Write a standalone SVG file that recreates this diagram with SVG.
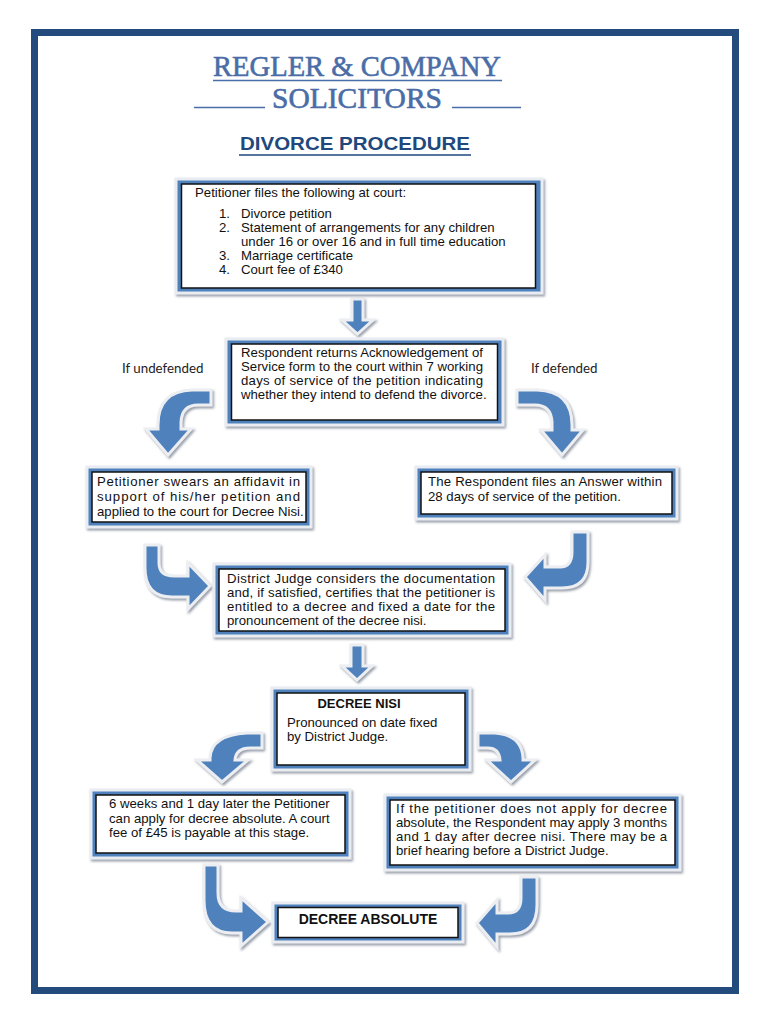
<svg xmlns="http://www.w3.org/2000/svg" width="770" height="1024" viewBox="0 0 770 1024">
<defs>
<filter id="sh" x="-10%" y="-10%" width="130%" height="130%">
<feDropShadow dx="1.5" dy="2" stdDeviation="0.8" flood-color="#8f96a3" flood-opacity="0.9"/>
</filter>
<style>
.frame{fill:#4f81bd;stroke:#e9ecf1;stroke-width:3;filter:url(#sh)}
.inner{fill:#ffffff;stroke:#111111;stroke-width:1.5}
.arrow{fill:#4f81bd;stroke:#eceef2;stroke-width:3;stroke-linejoin:miter;filter:url(#sh)}
.t{font-family:"Liberation Sans",Arial,sans-serif;font-size:13.2px;fill:#111111}
.b{font-family:"Liberation Sans",Arial,sans-serif;font-size:13px;font-weight:bold;fill:#111111}
.lbl{font-family:Lato,"Open Sans",sans-serif;font-size:13.3px;fill:#222222}
.title{font-family:"Liberation Serif","Times New Roman",serif;font-size:29px;fill:#4a6da7;stroke:#4a6da7;stroke-width:0.6}
</style>
</defs>
<rect x="34.5" y="32.5" width="701" height="958" fill="none" stroke="#234b7d" stroke-width="7"/>
<g id="header">
<text class="title" x="213" y="76" textLength="288" lengthAdjust="spacingAndGlyphs">REGLER &amp; COMPANY</text>
<line x1="213" y1="80.5" x2="502" y2="80.5" stroke="#4a6da7" stroke-width="1.5"/>
<text class="title" x="272" y="108" textLength="170" lengthAdjust="spacingAndGlyphs">SOLICITORS</text>
<line x1="194" y1="107.5" x2="265" y2="107.5" stroke="#4a6da7" stroke-width="1.5"/>
<line x1="452" y1="107.5" x2="521" y2="107.5" stroke="#4a6da7" stroke-width="1.5"/>
<text x="240" y="150" textLength="230" lengthAdjust="spacingAndGlyphs" style="font-family:'Liberation Sans',Arial,sans-serif;font-size:19px;font-weight:bold;fill:#1f497d">DIVORCE PROCEDURE</text>
<line x1="239" y1="155" x2="471" y2="155" stroke="#1f497d" stroke-width="1.5"/>
</g>
<g id="connectors">
<path class="arrow" d="M352,299 L363,299 L363,320 L373,320 L357.5,334 L342,320 L352,320 Z"/>
<path class="arrow" d="M211,390 L192,390 Q158,391 158,425 L158,429 L146,429 L168,455 L191,429 L181,429 L181,422 Q182,405 198,405 L211,405 Z"/>
<path class="arrow" d="M517,390 L537,390 Q572,391 572,425 L572,430 L583,430 L562,455 L541,430 L552,430 L552,422 Q551,405 535,405 L517,405 Z"/>
<path class="arrow" d="M145,545 L159,545 L159,563 Q159,576 174,576 L188,576 L188,563 L210,586 L188,609 L188,597 L172,597 Q145,597 145,568 Z"/>
<path class="arrow" d="M572,532 L588,532 L588,562 Q588,588 562,588 L545,588 L545,600 L525,577 L545,555 L545,567 L560,567 Q572,567 572,552 Z"/>
<path class="arrow" d="M351,645 L363,645 L363,666 L372,666 L357,680 L342,666 L351,666 Z"/>
<path class="arrow" d="M262,733 L247,733 Q211,735 210,758 L210,760 L197,760 L222,782 L248,760 L235,760 Q236,748 250,748 L262,748 Z"/>
<path class="arrow" d="M478,733 L495,733 Q522,735 523,758 L523,760 L535,760 L511,782 L487,760 L500,760 Q499,748 488,748 L478,748 Z"/>
<path class="arrow" d="M204,865 L218,865 L218,893 Q218,911 236,911 L241,911 L241,898 L268,922 L241,946 L241,933 L232,933 Q204,933 204,900 Z"/>
<path class="arrow" d="M521,877 L537,877 L537,905 Q537,934 510,934 L497,934 L497,947 L477,923 L497,900 L497,913 L508,913 Q521,913 521,898 Z"/>
</g>
<g id="n1">
<rect class="frame" x="176" y="179" width="366" height="114"/>
<rect class="inner" x="181.5" y="184" width="354" height="104"/>
<text class="t" x="195" y="197">Petitioner files the following at court:</text>
<text class="t" x="219" y="218">1.</text><text class="t" x="241" y="218">Divorce petition</text>
<text class="t" x="219" y="232">2.</text><text class="t" x="241" y="232">Statement of arrangements for any children</text>
<text class="t" x="241" y="246">under 16 or over 16 and in full time education</text>
<text class="t" x="219" y="260">3.</text><text class="t" x="241" y="260">Marriage certificate</text>
<text class="t" x="219" y="274">4.</text><text class="t" x="241" y="274">Court fee of £340</text>
</g>
<g id="n2">
<rect class="frame" x="226" y="339" width="277" height="86"/>
<rect class="inner" x="231.5" y="344" width="266" height="76"/>
<text class="t" x="241" y="357" textLength="242">Respondent returns Acknowledgement of</text>
<text class="t" x="241" y="371" textLength="242">Service form to the court within 7 working</text>
<text class="t" x="241" y="385" textLength="242">days of service of the petition indicating</text>
<text class="t" x="241" y="399">whether they intend to defend the divorce.</text>
</g>
<g id="lbl-undefended"><text class="lbl" x="122" y="373">If undefended</text></g>
<g id="lbl-defended"><text class="lbl" x="531" y="373">If defended</text></g>
<g id="n3">
<rect class="frame" x="87" y="467" width="224" height="60"/>
<rect class="inner" x="92" y="472" width="214" height="50"/>
<text class="t" x="97" y="486" textLength="203">Petitioner swears an affidavit in</text>
<text class="t" x="97" y="501" textLength="203">support of his/her petition and</text>
<text class="t" x="97" y="516">applied to the court for Decree Nisi.</text>
</g>
<g id="n4">
<rect class="frame" x="416" y="467" width="261" height="52"/>
<rect class="inner" x="421" y="472" width="251" height="42"/>
<text class="t" x="428" y="486" textLength="234">The Respondent files an Answer within</text>
<text class="t" x="428" y="501">28 days of service of the petition.</text>
</g>
<g id="n5">
<rect class="frame" x="214" y="564" width="296" height="72"/>
<rect class="inner" x="219" y="569" width="286" height="62"/>
<text class="t" x="227" y="583" textLength="268">District Judge considers the documentation</text>
<text class="t" x="227" y="597" textLength="268">and, if satisfied, certifies that the petitioner is</text>
<text class="t" x="227" y="611" textLength="268">entitled to a decree and fixed a date for the</text>
<text class="t" x="227" y="625">pronouncement of the decree nisi.</text>
</g>
<g id="n6">
<rect class="frame" x="272" y="688" width="198" height="82"/>
<rect class="inner" x="277" y="693" width="188" height="72"/>
<text class="b" x="359" y="708" text-anchor="middle">DECREE NISI</text>
<text class="t" x="287" y="727">Pronounced on date fixed</text>
<text class="t" x="287" y="741">by District Judge.</text>
</g>
<g id="n7">
<rect class="frame" x="91" y="790" width="259" height="68"/>
<rect class="inner" x="96" y="795" width="249" height="58"/>
<text class="t" x="109" y="808">6 weeks and 1 day later the Petitioner</text>
<text class="t" x="109" y="823">can apply for decree absolute.  A court</text>
<text class="t" x="109" y="837">fee of £45 is payable at this stage.</text>
</g>
<g id="n8">
<rect class="frame" x="385" y="795" width="295" height="75"/>
<rect class="inner" x="390" y="800" width="285" height="65"/>
<text class="t" x="396" y="813" textLength="271">If the petitioner does not apply for decree</text>
<text class="t" x="396" y="827" textLength="271">absolute, the Respondent may apply 3 months</text>
<text class="t" x="396" y="841" textLength="271">and 1 day after decree nisi. There may be a</text>
<text class="t" x="396" y="855">brief hearing before a District Judge.</text>
</g>
<g id="n9">
<rect class="frame" x="273" y="903" width="190" height="39"/>
<rect class="inner" x="278" y="907.5" width="180" height="30"/>
<text class="b" x="368" y="924" text-anchor="middle" style="font-size:14px">DECREE ABSOLUTE</text>
</g>
</svg>
